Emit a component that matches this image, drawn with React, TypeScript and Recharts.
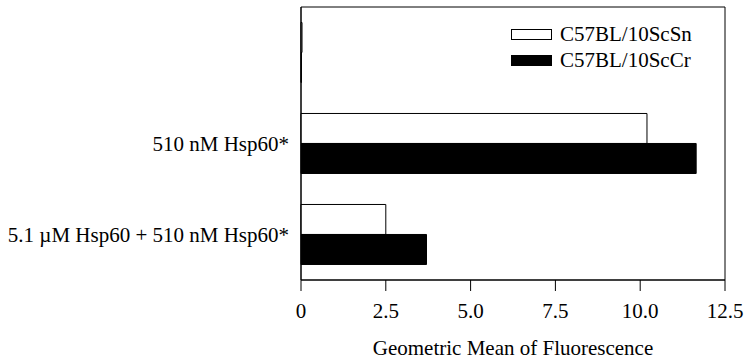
import React from "react";
import { BarChart, Bar, XAxis, YAxis, Legend, ReferenceArea } from "recharts";

const categories = ["", "510 nM Hsp60*", "5.1 µM Hsp60 + 510 nM Hsp60*"];
const scSnValues = [0.03, 10.2, 2.5];
const scCrValues = [0.01, 11.65, 3.7];
const xTicks = [0, 2.5, 5, 7.5, 10, 12.5];
const seriesNames = ["C57BL/10ScSn", "C57BL/10ScCr"];

const data = categories.map((name, i) => ({
  name,
  scSn: scSnValues[i],
  scCr: scCrValues[i],
}));

const FONT = "'Liberation Serif', 'Times New Roman', serif";

const LegendContent = () => (
  <div style={{ fontFamily: FONT, fontSize: 21, color: "#000" }}>
    {seriesNames.map((n, i) => (
      <div
        key={n}
        style={{ display: "flex", alignItems: "center", height: 26, lineHeight: "26px", whiteSpace: "nowrap" }}
      >
        <div
          style={{
            width: 41,
            height: 11,
            boxSizing: "border-box",
            border: "1px solid #000",
            background: i === 0 ? "#fff" : "#000",
            marginRight: 8,
          }}
        />
        <span>{n}</span>
      </div>
    ))}
  </div>
);

export default function App() {
  return (
    <div style={{ position: "absolute", left: 0, top: 0, background: "#fff" }}>
      <BarChart
        width={744}
        height={361}
        data={data}
        layout="vertical"
        margin={{ top: 7, right: 19, left: 0, bottom: 0 }}
        barCategoryGap="17%"
        barGap={0}
      >
        <XAxis
          type="number"
          domain={[0, 12.5]}
          ticks={xTicks}
          tickFormatter={(v: number) => (v === 0 ? "0" : v.toFixed(1))}
          height={81}
          tickSize={11}
          tickMargin={12}
          stroke="#000"
          axisLine={{ stroke: "#000" }}
          tickLine={{ stroke: "#000" }}
          tick={{ fill: "#000", fontSize: 21, fontFamily: FONT }}
          label={{
            value: "Geometric Mean of Fluorescence",
            position: "insideBottom",
            offset: 6,
            fill: "#000",
            fontSize: 21,
            fontFamily: FONT,
          }}
        />
        <YAxis
          type="category"
          dataKey="name"
          width={301}
          tickSize={0}
          tickMargin={12}
          tickLine={false}
          axisLine={{ stroke: "#000" }}
          tick={{ fill: "#000", fontSize: 21, fontFamily: FONT }}
          interval={0}
        />
        <ReferenceArea x1={0} x2={12.5} fill="none" fillOpacity={0} stroke="#000" strokeWidth={1} ifOverflow="visible" />
        <Legend
          layout="horizontal"
          verticalAlign="middle"
          align="center"
          wrapperStyle={{ top: 21, left: 511, width: "auto" }}
          content={() => <LegendContent />}
        />
        <Bar dataKey="scSn" name={seriesNames[0]} fill="#fff" stroke="#000" strokeWidth={1} isAnimationActive={false} />
        <Bar dataKey="scCr" name={seriesNames[1]} fill="#000" stroke="#000" strokeWidth={1} isAnimationActive={false} />
      </BarChart>
    </div>
  );
}
